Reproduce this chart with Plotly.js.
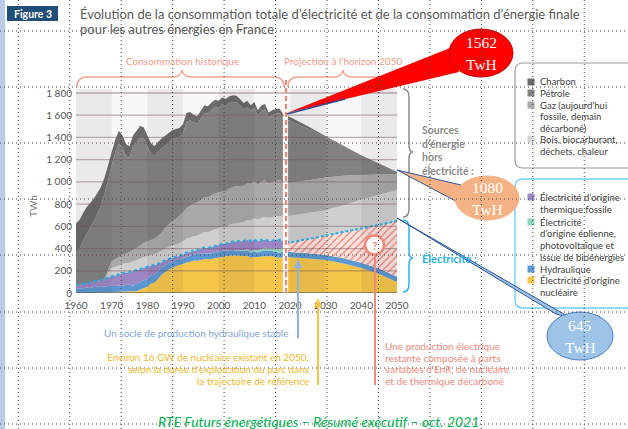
<!DOCTYPE html>
<html><head><meta charset="utf-8">
<script src="https://cdn.plot.ly/plotly-3.0.1.min.js"></script>
<style>html,body{margin:0;padding:0;background:#fff;}#chart{width:628px;height:429px;}</style>
</head><body><div id="chart"></div>
<script>
// ---------- DATA (TWh) ----------
const histYears = [1960,1961,1962,1963,1964,1965,1966,1967,1968,1969,1970,1971,1972,1973,1974,1975,1976,1977,1978,1979,1980,1981,1982,1983,1984,1985,1986,1987,1988,1989,1990,1991,1992,1993,1994,1995,1996,1997,1998,1999,2000,2001,2002,2003,2004,2005,2006,2007,2008,2009,2010,2011,2012,2013,2014,2015,2016,2017,2018];
const histNucleaire = [0,0,0,1,1,1,2,3,3,4, 5,8,12,13,14,16,15,17,30,45, 55,85,95,125,165,190,212,228,240,252, 262,275,282,292,290,298,305,305,305,312, 320,325,332,335,338,338,336,333,335,318, 325,325,328,330,330,332,322,318,322];
const histHydraulique = [40,40,42,48,45,52,55,50,55,60, 60,55,55,50,58,60,50,70,68,70, 72,75,70,72,68,55,55,56,58,45, 48,50,55,53,60,58,52,50,50,56, 54,58,48,48,48,42,46,47,50,47, 50,40,48,55,52,46,50,42,52];
const histEnR = [0,0,0,0,0,0,0,0,0,0, 0,0,0,0,0,0,0,0,0,0, 0,0,0,0,0,0,0,0,0,0, 0,0,0,0,0,0,0,0,0,0, 0,0,0,0,0,3,5,7,9,11, 14,17,20,22,24,27,30,33,36];
const histThermiqueFossile = [32,36,40,41,50,49,53,65,67,76, 85,95,101,117,113,112,133,118,120,115, 111,85,87,65,47,50,38,34,27,38, 35,40,35,35,35,39,53,50,60,57, 58,57,60,72,76,82,78,81,84,94, 91,83,82,73,64,67,76,85,62];
const histBois = [0,0,0,0,0,0,0,0,0,40, 75,78,80,80,82,85,88,90,92,95, 95,98,98,100,102,105,108,110,112,115, 120,125,128,130,132,135,140,140,145,148, 150,155,155,160,162,165,168,172,180,185, 192,195,200,205,205,210,212,215,218];
const histGaz = [0,0,0,0,0,0,0,0,0,30, 60,68,75,82,88,95,102,110,118,125, 130,135,140,150,160,190,205,220,232,245, 260,275,285,295,300,305,315,315,320,322, 325,318,318,325,330,332,330,325,330,325, 335,315,325,330,310,318,320,322,315];
const histPetrole = [283,324,388,445,489,543,605,672,770,810, 865,961,1022,968,875,852,932,955,977,940, 857,777,740,758,758,735,737,737,726,710, 715,775,770,730,703,735,755,755,770,780, 758,787,772,770,766,753,724,687,687,660, 661,620,637,637,595,600,603,603,570];
const histCharbon = [270,260,250,240,225,205,185,165,145,130, 120,115,115,110,110,100,100,100,100,100, 100,95,90,90,90,90,85,80,80,80, 80,80,75,70,70,70,70,65,65,65, 65,60,60,60,60,60,58,58,55,50, 52,50,50,48,45,45,42,42,40];

const projYears = [2019,2020,2025,2030,2035,2040,2045,2050];
const projNucleaire = [326,322,310,296,265,225,170,100];
const projHydraulique = [45,47,47,45,47,48,50,46];
const projMixRestant = [91,86,128,179,238,307,392,502];
const projBois = [228,240,235,225,240,260,273,276];
const projGaz = [300,297,295,295,265,222,181,143];
const projPetrole = [570,558,465,362,267,177,99,21];
const projCharbon = [37,35,20,8,3,1,0,0];

const xTicks = [1960,1970,1980,1990,2000,2010,2020,2030,2040,2050];
const xTickLabels = ['1960','1970','1980','1990','2000','2010','2020','2030','2040','2050'];
const yTicks = [0,200,400,600,800,1000,1200,1400,1600,1800];
const yTickLabels = ['0','200','400','600','800','1 000','1 200','1 400','1 600','1 800'];

// ---------- STYLE ----------
const C = {charbon:'#6b6b6b', petrole:'#828282', gaz:'#a9a9a9', bois:'#cfcfcf',
  fossile:'#9d86c4', enr:'#8dd3c0', hydro:'#5b97d0', nucl:'#f6c64b', elec:'#22b2e8'};
const FONT = 'Lato, "Open Sans", sans-serif';

const sum = (arrs) => arrs[0].map((_, i) => arrs.reduce((s, a) => s + a[i], 0));
const histElec = sum([histNucleaire, histHydraulique, histEnR, histThermiqueFossile]);
const projElec = sum([projNucleaire, projHydraulique, projMixRestant]);

function area(x, y, name, color, group, extra) {
  return Object.assign({type:'scatter', mode:'none', x:x, y:y, name:name, stackgroup:group,
    fillcolor:color, hoverinfo:'skip'}, extra || {});
}
const traces = [
  area(histYears, histNucleaire, 'Nucléaire', C.nucl, 'h'),
  area(histYears, histHydraulique, 'Hydraulique', C.hydro, 'h'),
  area(histYears, histEnR, 'EnR', C.enr, 'h'),
  area(histYears, histThermiqueFossile, 'Thermique fossile', C.fossile, 'h'),
  area(histYears, histBois, 'Bois', C.bois, 'h'),
  area(histYears, histGaz, 'Gaz', C.gaz, 'h'),
  area(histYears, histPetrole, 'Pétrole', C.petrole, 'h'),
  area(histYears, histCharbon, 'Charbon', C.charbon, 'h'),
  area(projYears, projNucleaire, 'Nucléaire', C.nucl, 'p'),
  area(projYears, projHydraulique, 'Hydraulique', C.hydro, 'p'),
  area(projYears, projMixRestant, 'Mix restant', '#fbe4df', 'p',
       {fillpattern:{shape:'/', bgcolor:'#fbe4df', fgcolor:'#ee8473', size:5, solidity:0.25}}),
  area(projYears, projBois, 'Bois', C.bois, 'p'),
  area(projYears, projGaz, 'Gaz', C.gaz, 'p'),
  area(projYears, projPetrole, 'Pétrole', C.petrole, 'p'),
  area(projYears, projCharbon, 'Charbon', C.charbon, 'p'),
  {type:'scatter', mode:'lines', x:histYears, y:histElec, line:{color:C.elec, width:2.2, dash:'dot'}, hoverinfo:'skip'},
  {type:'scatter', mode:'lines', x:projYears, y:projElec, line:{color:C.elec, width:2, dash:'3px,2px'}, hoverinfo:'skip'}
];

// ---------- pixel helpers for page decorations ----------
const L = 76, W = 321, B = 293, H = 204;
const X = px => (px - L) / W;
const Y = py => (B - py) / H;
const pp = s => s.replace(/(-?\d+(?:\.\d+)?),(-?\d+(?:\.\d+)?)/g, (m, a, b) => X(+a).toFixed(5) + ',' + Y(+b).toFixed(5));
const path = (d, o) => Object.assign({type:'path', xref:'paper', yref:'paper', path:pp(d), layer:'above'}, o);
const rect = (x0, y0, x1, y1, o) => Object.assign({type:'rect', xref:'paper', yref:'paper', x0:X(x0), x1:X(x1), y0:Y(y1), y1:Y(y0), layer:'above', line:{width:0}}, o);
const ell = (cx, cy, rx, ry, o) => Object.assign({type:'circle', xref:'paper', yref:'paper', x0:X(cx-rx), x1:X(cx+rx), y0:Y(cy+ry), y1:Y(cy-ry), layer:'above'}, o);
const seg = (x0, y0, x1, y1, color, w, dash) => ({type:'line', xref:'paper', yref:'paper', x0:X(x0), y0:Y(y0), x1:X(x1), y1:Y(y1), layer:'above', line:{color:color, width:w, dash:dash || 'solid'}});

const shapes = [];
// alternating decade bands (over the data)
for (let i = 0; i + 1 < xTicks.length; i += 2) {
  shapes.push({type:'rect', xref:'x', yref:'paper', x0:xTicks[i], x1:xTicks[i+1], y0:0, y1:1, layer:'above', line:{width:0}, fillcolor:'rgba(60,40,60,0.07)'});
}
// white strip at the historic / projection boundary
shapes.push(rect(284.3, 86, 287.9, 293, {fillcolor:'#ffffff'}));
// horizontal grid lines drawn over the areas
yTicks.forEach(v => {
  shapes.push({type:'line', xref:'paper', yref:'y', x0:0, x1:1, y0:v, y1:v, layer:'above',
    line:{color: v === 0 ? 'rgba(90,90,90,0.8)' : 'rgba(115,80,95,0.45)', width: v === 0 ? 1.5 : 1.3}});
});
// dashed boundary line
shapes.push(seg(286, 293, 286, 80, '#f4826d', 2, '5px,3px'));
// braces above
shapes.push(path('M 77,87 Q 77,77 87,77 L 172,77 Q 181,77 182,70 Q 183,77 192,77 L 274,77 Q 284,77 284,87', {line:{color:'#f4a08c', width:1.5}}));
shapes.push(path('M 288,87 Q 288,77 298,77 L 334,77 Q 342,77 343,70 Q 344,77 352,77 L 387,77 Q 397,77 397,87', {line:{color:'#f4a08c', width:1.5}}));
// right braces
shapes.push(path('M 403,89 Q 409,89 409,97 L 409,145 Q 409,152 413,152 Q 409,152 409,159 L 409,209 Q 409,217 403,217', {line:{color:'#8a8a8a', width:1.5}}));
shapes.push(path('M 403,220 Q 409,220 409,228 L 409,251 Q 409,258 413,258 Q 409,258 409,265 L 409,284 Q 409,292 403,292', {line:{color:'#2ab4ea', width:1.5}}));
// legend boxes
shapes.push(path('M 640,63 L 523,63 Q 515,63 515,71 L 515,160 Q 515,168 523,168 L 640,168', {line:{color:'#9a9a9a', width:1.2}}));
shapes.push(path('M 640,179 L 523,179 Q 515,179 515,187 L 515,300 Q 515,308 523,308 L 640,308', {line:{color:'#6fd0f4', width:1.4}}));
// legend swatches
[[82,C.charbon],[93,C.petrole],[105,C.gaz],[139,'#d6d6d6'],[197,C.fossile],[222,C.enr],[269,C.hydro],[280,C.nucl]].forEach(s => {
  shapes.push(rect(527.5, s[0]-3.5, 534.5, s[0]+3.5, {fillcolor:s[1]}));
});
// callout pointers and bubbles
shapes.push(path('M 287,113 L 450,48 L 459,72 Z', {fillcolor:'#ff0000', line:{width:0}}));
shapes.push(seg(287, 114, 345, 99, '#2e4a8f', 1.5));
shapes.push(ell(481, 53, 32, 24, {fillcolor:'#ff0000', line:{color:'#c00000', width:1}}));
shapes.push(path('M 397,170 L 461,185 L 467,207 Z', {fillcolor:'#f4b183', line:{color:'#2f5597', width:1}}));
shapes.push(ell(487, 198, 32, 22, {fillcolor:'#f4b183', line:{color:'#f4b183', width:1}}));
shapes.push(path('M 397,218 L 556,314 L 569,317 Z', {fillcolor:'#9dc3e6', line:{color:'#2f5597', width:1}}));
shapes.push(ell(580, 336, 33, 24, {fillcolor:'#9dc3e6', line:{color:'#4a7ebb', width:1}}));
// arrows below the chart
shapes.push(seg(298, 338, 298, 266, '#8db3e2', 2));
shapes.push(path('M 294,268 L 298,259 L 302,268 Z', {fillcolor:'#8db3e2', line:{width:0}}));
shapes.push(seg(318, 385, 318, 305, '#f5c342', 2));
shapes.push(path('M 314,307 L 318,298 L 322,307 Z', {fillcolor:'#f5c342', line:{width:0}}));
shapes.push(seg(375, 385, 375, 255, '#f08a78', 2));
shapes.push(ell(374.5, 245, 9.5, 9.5, {fillcolor:'#ffffff', line:{color:'#f08a78', width:2.5}}));
// figure tag and page margin
shapes.push(rect(7, 6, 58, 21, {fillcolor:'#1f4e79'}));
shapes.push(rect(0, 0, 5, 429, {fillcolor:'#b9cbe9'}));
// document dotted grid
for (let k = 0; k < 12; k++) { const x = 18.3 + 51.45 * k; shapes.push(seg(x, 0, x, 429, '#444', 1, '1px,3px')); }
[31, 87, 143, 199, 255, 312, 368, 424].forEach(y => shapes.push(seg(0, y, 628, y, '#444', 1, '1px,3px')));

// ---------- texts ----------
function T(px, py, text, o) {
  o = o || {};
  return {xref:'paper', yref:'paper', x:X(px), y:Y(py), text:text, showarrow:false,
    xanchor:o.xa || 'left', yanchor:'middle', align:o.align || 'left', textangle:o.angle || 0,
    font:{family:o.family || FONT, size:o.size || 10, color:o.color || '#404040'}};
}
const ann = [];
ann.push(T(78, 14, 'Évolution de la consommation totale d’électricité et de la consommation d’énergie finale', {size:13, color:'#595959'}));
ann.push(T(78, 29, 'pour les autres énergies en France', {size:13, color:'#595959'}));
ann.push(T(32.5, 13.5, '<b>Figure 3</b>', {xa:'center', size:10.5, color:'#ffffff'}));
ann.push(T(182, 61, 'Consommation historique', {xa:'center', color:'#f49a86'}));
ann.push(T(343, 61, 'Projection à l’horizon 2050', {xa:'center', color:'#f49a86'}));
ann.push(T(33, 206, 'TWh', {xa:'center', angle:-90, color:'#777777'}));
ann.push(T(420, 150, '<b>Sources<br>d’énergie<br>hors<br>électricité :</b>', {size:10.5, color:'#8c8c8c'}));
ann.push(T(420, 258, '<b>Électricité :</b>', {size:11, color:'#2ab1e6'}));
[['Charbon',82],['Pétrole',93],['Gaz (aujourd’hui',105],['fossile, demain',116.5],['décarboné)',128],['Bois, biocarburant,',139],['déchets, chaleur',151],
 ['Électricité d’origine',197],['thermique fossile',209.5],['Électricité',222],['d’origine éolienne,',233],['photovoltaïque et',245],['issue de bioénergies',257],['Hydraulique',269],['Électricité d’origine',280],['nucléaire',292]]
 .forEach(s => ann.push(T(538, s[1], s[0], {size:9.5, color:'#404040'})));
const SERIF = '"Liberation Serif", "DejaVu Serif", serif';
[[481,43,'1562'],[481,64,'TwH'],[487,187,'1080'],[487,209,'TwH'],[580,325,'645'],[580,347,'TwH']]
 .forEach(s => ann.push(T(s[0], s[1], s[2], {xa:'center', size:15.5, color:'#ffffff', family:SERIF})));
ann.push(T(374.5, 245.5, '<b>?</b>', {xa:'center', size:12, color:'#f08a78'}));
ann.push(T(290, 333, 'Un socle de production hydraulique stable', {xa:'right', color:'#7ea6d8'}));
['Environ 16 GW de nucléaire existant en 2050,','selon la durée d’exploitation du parc dans','la trajectoire de référence']
 .forEach((s, i) => ann.push(T(311, 357 + i * 12, s, {xa:'right', color:'#f0b72a'})));
['Une production électrique','restante composée à parts','variables d’EnR, de nucléaire','et de thermique décarboné']
 .forEach((s, i) => ann.push(T(383, 346 + i * 11.7, s, {color:'#f2897a'})));
ann.push(T(318, 421, '<i>RTE Futurs énergétiques – Résumé exécutif – oct. 2021</i>', {xa:'center', size:14, color:'#00b050'}));

const layout = {
  width:628, height:429, margin:{l:L, r:628-L-W, t:B-H, b:429-B, pad:0},
  paper_bgcolor:'#ffffff', plot_bgcolor:'#f9f8f9', showlegend:false,
  font:{family:FONT, size:10, color:'#555555'},
  xaxis:{range:[1960,2050], tickvals:xTicks, ticktext:xTickLabels, showgrid:false, zeroline:false, showline:false, ticks:'', ticklabelstandoff:5, tickfont:{size:10, color:'#555555'}, fixedrange:true},
  yaxis:{range:[0,1836], tickvals:yTicks, ticktext:yTickLabels, showgrid:false, zeroline:false, showline:false, ticks:'', ticklabelstandoff:3, tickfont:{size:10, color:'#555555'}, fixedrange:true},
  shapes:shapes, annotations:ann
};
Plotly.newPlot('chart', traces, layout, {staticPlot:true, displayModeBar:false});
</script></body></html>
